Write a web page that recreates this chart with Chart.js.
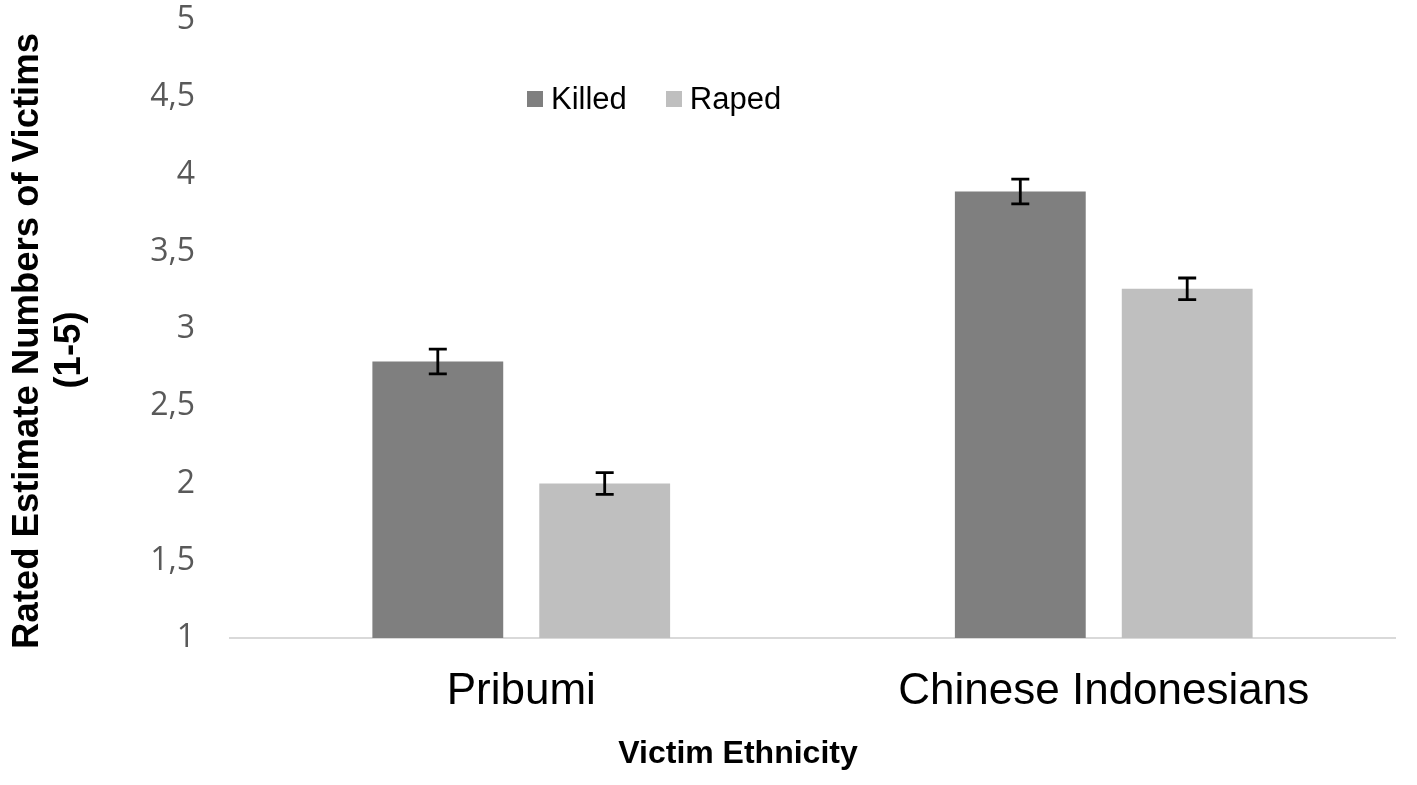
<!DOCTYPE html>
<html lang="en">
<head>
    <meta charset="UTF-8">
    <script src="https://cdn.jsdelivr.net/npm/chart.js"></script>
    <title>Victim Ethnicity</title>
    <style>
        body {
            margin: 0;
            background: #fff;
        }
        .wrap {
            position: relative;
            width: 1417px;
            height: 785px;
        }
        #legend {
            position: absolute;
            left: 527px;
            top: 81px;
            display: flex;
            align-items: center;
            font-family: "Liberation Sans", Arial, sans-serif;
            font-size: 31px;
            color: #000;
        }
        #legend .item {
            display: flex;
            align-items: center;
            margin-right: 39px;
        }
        #legend .box {
            width: 16px;
            height: 16px;
            margin-right: 8px;
        }
    </style>
</head>
<body>
    <div class="wrap">
        <canvas id="myChart"></canvas>
        <div id="legend"></div>
    </div>

    <script>
        // datos
        const categories = ['Pribumi', 'Chinese Indonesians'];
        const killed = [2.79, 3.89];
        const raped = [2.00, 3.26];
        const killedErr = [0.08, 0.08];
        const rapedErr = [0.07, 0.07];
        const seriesNames = ['Killed', 'Raped'];
        const seriesColors = ['#7f7f7f', '#bfbfbf'];
        const xTitle = 'Victim Ethnicity';
        const yTitle = ['Rated Estimate Numbers of Victims', '(1-5)'];

        // barras de error dibujadas encima de cada barra
        const errorBars = {
            id: 'errorBars',
            afterDatasetsDraw(chart) {
                const ctx = chart.ctx;
                const y = chart.scales.y;
                chart.data.datasets.forEach((ds, i) => {
                    const meta = chart.getDatasetMeta(i);
                    meta.data.forEach((bar, j) => {
                        const v = ds.data[j];
                        const e = ds.errors[j];
                        const top = y.getPixelForValue(v + e);
                        const bottom = y.getPixelForValue(v - e);
                        const half = 9;
                        ctx.save();
                        ctx.strokeStyle = '#000';
                        ctx.lineWidth = 2.8;
                        ctx.beginPath();
                        ctx.moveTo(bar.x, top);
                        ctx.lineTo(bar.x, bottom);
                        ctx.moveTo(bar.x - half, top);
                        ctx.lineTo(bar.x + half, top);
                        ctx.moveTo(bar.x - half, bottom);
                        ctx.lineTo(bar.x + half, bottom);
                        ctx.stroke();
                        ctx.restore();
                    });
                });
            }
        };

        // titulos de los ejes (el original no esta centrado en el area)
        const axisTitles = {
            id: 'axisTitles',
            afterDraw(chart) {
                const ctx = chart.ctx;
                ctx.save();
                ctx.fillStyle = '#000';
                ctx.textAlign = 'center';
                ctx.textBaseline = 'middle';
                ctx.font = 'bold 32px "Liberation Sans", Arial, sans-serif';
                ctx.fillText(xTitle, 738, 754);

                ctx.font = 'bold 36.5px "Liberation Sans", Arial, sans-serif';
                ctx.translate(0, 341);
                ctx.rotate(-Math.PI / 2);
                ctx.fillText(yTitle[0], 0, 28);
                ctx.fillText(yTitle[1], -9, 70);
                ctx.restore();
            }
        };

        const ctx = document.getElementById('myChart');
        const chart = new Chart(ctx, {
            type: 'bar',
            data: {
                labels: categories,
                datasets: [{
                    label: seriesNames[0],
                    data: killed,
                    errors: killedErr,
                    backgroundColor: seriesColors[0]
                }, {
                    label: seriesNames[1],
                    data: raped,
                    errors: rapedErr,
                    backgroundColor: seriesColors[1]
                }]
            },
            options: {
                responsive: true,
                maintainAspectRatio: false,
                animation: false,
                categoryPercentage: 0.573,
                barPercentage: 0.784,
                layout: {
                    padding: { top: 0, right: 22, left: 0, bottom: 0 }
                },
                plugins: {
                    legend: { display: false },
                    tooltip: { enabled: false }
                },
                scales: {
                    x: {
                        grid: { display: false, drawTicks: false },
                        border: { display: true, color: '#d9d9d9', width: 2 },
                        ticks: {
                            color: '#000',
                            padding: 27,
                            font: { family: '"Liberation Sans", Arial, sans-serif', size: 44 }
                        },
                        afterFit(scale) {
                            scale.height = 147;
                        }
                    },
                    y: {
                        min: 1,
                        max: 5,
                        grid: { display: false, drawTicks: false },
                        border: { display: false },
                        ticks: {
                            stepSize: 0.5,
                            color: '#595959',
                            padding: 35,
                            font: { family: '"Open Sans", sans-serif', size: 32 },
                            callback: v => String(v).replace('.', ',')
                        },
                        afterFit(scale) {
                            scale.width = 230;
                            scale.paddingTop = 20;
                            scale.paddingBottom = 0;
                        }
                    }
                }
            },
            plugins: [errorBars, axisTitles]
        });

        // leyenda en html
        const legend = document.getElementById('legend');
        seriesNames.forEach((name, i) => {
            const item = document.createElement('div');
            item.className = 'item';
            const box = document.createElement('span');
            box.className = 'box';
            box.style.backgroundColor = seriesColors[i];
            const txt = document.createElement('span');
            txt.innerText = name;
            item.appendChild(box);
            item.appendChild(txt);
            legend.appendChild(item);
        });
    </script>
</body>
</html>
